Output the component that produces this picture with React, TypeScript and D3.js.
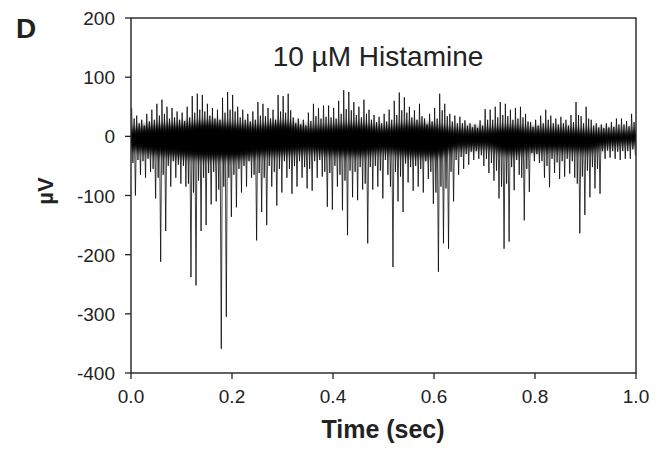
import React from "react";
import * as d3 from "d3";

// Trace envelope per 0.01 s bin (µV)
const binWidth = 0.01;
const upperPeaks = [
  48, 35, 28, 38, 45, 55, 62, 50, 48, 42,
  40, 50, 68, 72, 70, 55, 48, 45, 65, 75,
  70, 50, 45, 38, 42, 58, 55, 48, 45, 70,
  68, 72, 32, 30, 28, 40, 55, 48, 52, 52,
  48, 60, 78, 75, 58, 50, 62, 45, 36, 33,
  38, 45, 60, 74, 66, 50, 44, 55, 30, 38,
  48, 72, 55, 38, 35, 33, 27, 22, 20, 27,
  46, 45, 50, 58, 55, 45, 48, 50, 38, 24,
  28, 35, 45, 35, 30, 33, 28, 36, 58, 34,
  50, 28, 22, 20, 22, 24, 30, 30, 26, 38,
];
const lowerPeaks = [
  -100, -65, -70, -60, -105, -212, -160, -85, -70, -80,
  -85, -238, -252, -160, -150, -115, -110, -359, -305, -136,
  -120, -95, -85, -70, -176, -128, -150, -85, -117, -95,
  -70, -97, -85, -70, -88, -92, -70, -68, -119, -124,
  -85, -125, -167, -103, -108, -90, -181, -90, -85, -105,
  -65, -221, -110, -128, -78, -92, -85, -95, -72, -114,
  -229, -181, -190, -110, -65, -55, -48, -40, -38, -50,
  -62, -75, -105, -190, -178, -91, -65, -142, -94, -42,
  -45, -70, -86, -62, -72, -68, -63, -70, -164, -133,
  -103, -88, -97, -38, -36, -38, -40, -38, -38, -32,
];
// Secondary (typical) excursions per bin
const midUpper = [
  30, 22, 18, 25, 28, 35, 38, 30, 32, 28,
  26, 32, 40, 45, 42, 35, 30, 28, 40, 45,
  42, 32, 28, 25, 28, 35, 34, 30, 28, 42,
  40, 44, 22, 20, 18, 26, 34, 30, 33, 32,
  30, 38, 46, 44, 36, 32, 38, 28, 24, 22,
  25, 28, 36, 44, 40, 32, 28, 34, 20, 25,
  30, 44, 34, 25, 22, 22, 18, 15, 14, 18,
  28, 28, 32, 36, 34, 28, 30, 32, 25, 16,
  18, 22, 28, 22, 20, 22, 18, 24, 36, 22,
  30, 18, 15, 14, 15, 16, 20, 20, 17, 24,
];
const midLower = [
  -45, -40, -42, -38, -55, -70, -65, -50, -42, -48,
  -50, -80, -95, -75, -70, -62, -60, -90, -85, -70,
  -65, -55, -50, -42, -65, -62, -70, -50, -60, -55,
  -42, -55, -50, -42, -52, -55, -42, -40, -60, -62,
  -50, -65, -75, -58, -60, -52, -80, -52, -50, -58,
  -40, -85, -60, -68, -46, -52, -50, -55, -42, -60,
  -95, -85, -88, -60, -40, -35, -30, -26, -25, -32,
  -38, -45, -58, -85, -80, -52, -40, -70, -55, -28,
  -30, -42, -50, -38, -44, -42, -38, -42, -80, -68,
  -58, -52, -55, -25, -24, -25, -26, -25, -25, -22,
];
// Dense core band, every 0.05 s
const coreTimes = [0, 0.05, 0.1, 0.15, 0.2, 0.25, 0.3, 0.35, 0.4, 0.45, 0.5, 0.55, 0.6, 0.65, 0.7, 0.75, 0.8, 0.85, 0.9, 0.95, 1.0];
const coreUpper = [13, 18, 20, 24, 20, 18, 22, 15, 18, 20, 15, 20, 18, 12, 12, 16, 12, 12, 10, 9, 10];
const coreLower = [-22, -30, -34, -38, -38, -32, -30, -26, -30, -32, -26, -32, -34, -21, -19, -30, -24, -24, -26, -15, -13];

const xTicks = [0, 0.2, 0.4, 0.6, 0.8, 1.0];
const xTickLabels = ["0.0", "0.2", "0.4", "0.6", "0.8", "1.0"];
const yTicks = [200, 100, 0, -100, -200, -300, -400];
const yTickLabels = ["200", "100", "0", "-100", "-200", "-300", "-400"];

const W = 670;
const H = 451;
const L = 131, R = 636, T = 18, B = 373;
const FONT = "'Liberation Sans', Arial, Helvetica, sans-serif";

export default function App() {
  const x = d3.scaleLinear().domain([0, 1]).range([L, R]);
  const y = d3.scaleLinear().domain([-400, 200]).range([B, T]);

  const pts: [number, number][] = [];
  upperPeaks.forEach((u, i) => {
    const t0 = i * binWidth;
    pts.push([t0 + binWidth * 0.125, u]);
    pts.push([t0 + binWidth * 0.375, midLower[i]]);
    pts.push([t0 + binWidth * 0.625, midUpper[i]]);
    pts.push([t0 + binWidth * 0.875, lowerPeaks[i]]);
  });
  const line = d3
    .line<[number, number]>()
    .x((d) => x(d[0]))
    .y((d) => y(d[1]));

  const core = coreTimes.map((t, i) => ({ t, u: coreUpper[i], l: coreLower[i] }));
  const area = d3
    .area<{ t: number; u: number; l: number }>()
    .x((d) => x(d.t))
    .y0((d) => y(d.l))
    .y1((d) => y(d.u))
    .curve(d3.curveMonotoneX);

  return (
    <svg width={W} height={H} style={{ position: "absolute", left: 0, top: 0, background: "#fff" }} fontFamily={FONT}>
      <rect x={0} y={0} width={W} height={H} fill="#fff" />
      <defs>
        <clipPath id="plot">
          <rect x={L} y={T} width={R - L} height={B - T} />
        </clipPath>
        <filter id="soft" x="-5%" y="-50%" width="110%" height="200%">
          <feGaussianBlur stdDeviation="0 3.5" />
        </filter>
      </defs>
      <g clipPath="url(#plot)">
        <path d={area(core) || ""} fill="#000" filter="url(#soft)" />
        <path d={line(pts) || ""} fill="none" stroke="#000" strokeWidth={0.75} />
      </g>
      <rect x={L} y={T} width={R - L} height={B - T} fill="none" stroke="#222" strokeWidth={1.4} />
      {yTicks.map((v, i) => (
        <g key={v}>
          <line x1={L - 6} x2={L} y1={y(v)} y2={y(v)} stroke="#222" strokeWidth={1.3} />
          <text x={L - 16} y={y(v) + 7} textAnchor="end" fontSize={19} fill="#222">
            {yTickLabels[i]}
          </text>
        </g>
      ))}
      {xTicks.map((v, i) => (
        <g key={v}>
          <line x1={x(v)} x2={x(v)} y1={B} y2={B + 6} stroke="#222" strokeWidth={1.3} />
          <text x={x(v)} y={403} textAnchor="middle" fontSize={19} fill="#222">
            {xTickLabels[i]}
          </text>
        </g>
      ))}
      <text x={383} y={438} textAnchor="middle" fontSize={25} fontWeight="bold" fill="#222">
        Time (sec)
      </text>
      <text
        transform={`translate(53,191) rotate(-90)`}
        textAnchor="middle"
        fontSize={22}
        fontWeight="bold"
        fill="#222"
      >
        µV
      </text>
      <text x={378} y={66} textAnchor="middle" fontSize={28} fill="#222">
        10 µM Histamine
      </text>
      <text x={16} y={38} fontSize={28} fontWeight="bold" fill="#222">
        D
      </text>
    </svg>
  );
}
